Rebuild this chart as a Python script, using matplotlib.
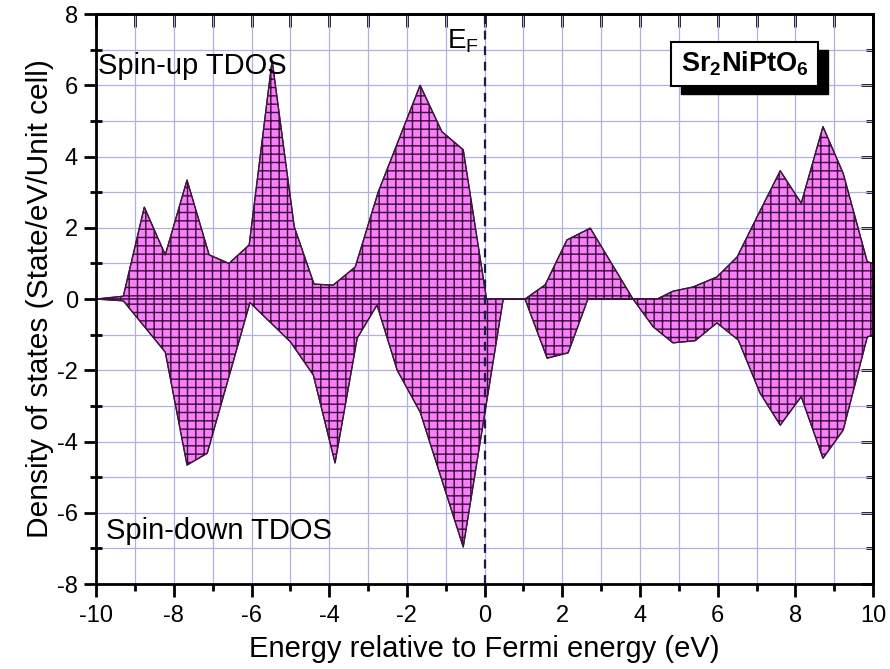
"""Spin-polarised TDOS of Sr2NiPtO6 (filled, cross-hatched)."""

import matplotlib
matplotlib.use("Agg")
import matplotlib.pyplot as plt
from matplotlib.patches import Rectangle
from matplotlib.ticker import MultipleLocator

plt.rcParams["font.family"] = ["Liberation Sans", "DejaVu Sans"]
plt.rcParams["axes.unicode_minus"] = False
plt.rcParams["hatch.linewidth"] = 1.0
plt.rcParams["hatch.color"] = "#3a0a3a"

# spin-up TDOS
e_up = [-10.0, -9.3, -8.76, -8.22, -7.66, -7.09, -6.58, -6.06, -5.47, -4.9,
        -4.39, -3.9, -3.33, -2.74, -1.66, -1.1, -0.55, 0.05, 0.48, 1.04,
        1.56, 2.12, 2.72, 3.82, 4.44, 4.85, 5.37, 5.98, 6.5, 7.01,
        7.61, 8.15, 8.71, 9.23, 9.85, 10.0]
dos_up = [0.0, 0.08, 2.58, 1.24, 3.34, 1.24, 1.0, 1.52, 6.7, 2.03,
          0.42, 0.39, 0.9, 3.0, 6.0, 4.7, 4.19, 0.0, 0.0, 0.0,
          0.4, 1.66, 1.99, 0.0, 0.0, 0.22, 0.34, 0.62, 1.18, 2.3,
          3.6, 2.69, 4.84, 3.53, 1.05, 1.0]

# spin-down TDOS
e_dn = [-10.0, -9.3, -8.22, -7.66, -7.14, -6.04, -5.0, -4.41, -3.85, -3.28,
        -2.77, -2.25, -1.66, -0.55, 0.48, 1.04, 1.61, 2.15, 2.66, 3.82,
        4.34, 4.85, 5.42, 5.98, 6.53, 7.09, 7.61, 8.15, 8.71, 9.23,
        9.85, 10.0]
dos_dn = [0.0, -0.05, -1.49, -4.66, -4.33, -0.1, -1.2, -2.13, -4.6, -1.1,
          -0.17, -2.0, -3.17, -6.96, 0.0, 0.0, -1.66, -1.51, 0.0, 0.0,
          -0.78, -1.23, -1.17, -0.67, -1.15, -2.64, -3.54, -2.74, -4.47, -3.68,
          -1.07, -1.0]

FILL = "#f77ff7"
GRID = "#b0b0e0"

fig = plt.figure(figsize=(8.9, 6.69), dpi=100)
ax = fig.add_axes([0.108, 0.127, 0.873, 0.852])

ax.fill_between(e_up, dos_up, 0, facecolor=FILL, edgecolor="#3a0a3a",
                hatch="++", linewidth=0.9, zorder=2)
ax.fill_between(e_dn, dos_dn, 0, facecolor=FILL, edgecolor="#3a0a3a",
                hatch="++", linewidth=0.9, zorder=2)
ax.plot(e_up, dos_up, color="#3a1a3a", lw=0.9, zorder=3)
ax.plot(e_dn, dos_dn, color="#3a1a3a", lw=0.9, zorder=3)

ax.axvline(0, color="#1a1a4a", ls=(0, (4, 3)), lw=1.6, zorder=4)

ax.set_xlim(-10, 10)
ax.set_ylim(-8, 8)
ax.xaxis.set_major_locator(MultipleLocator(2))
ax.xaxis.set_minor_locator(MultipleLocator(1))
ax.yaxis.set_major_locator(MultipleLocator(2))
ax.yaxis.set_minor_locator(MultipleLocator(1))
ax.grid(True, which="both", color=GRID, lw=0.9, zorder=0)
ax.set_axisbelow(True)

for sp in ax.spines.values():
    sp.set_linewidth(2)
    sp.set_zorder(5)

ax.tick_params(axis="x", which="major", direction="out", length=9, width=2,
               labelsize=17, pad=6)
ax.tick_params(axis="x", which="minor", direction="out", length=5, width=2)
ax.tick_params(axis="y", which="major", direction="out", length=9, width=2,
               labelsize=17, pad=4)
ax.tick_params(axis="y", which="minor", direction="inout", length=8, width=2)

# top/right ticks point inward
top = ax.secondary_xaxis("top")
top.xaxis.set_major_locator(MultipleLocator(2))
top.xaxis.set_minor_locator(MultipleLocator(1))
top.tick_params(which="major", direction="in", length=9, width=2, labeltop=False)
top.tick_params(which="minor", direction="in", length=9, width=2)
top.spines["top"].set_linewidth(2)
right = ax.secondary_yaxis("right")
right.yaxis.set_major_locator(MultipleLocator(2))
right.yaxis.set_minor_locator(MultipleLocator(1))
right.tick_params(which="major", direction="in", length=9, width=2, labelright=False)
right.tick_params(which="minor", direction="in", length=5, width=2)
right.spines["right"].set_linewidth(2)

ax.set_xlabel("Energy relative to Fermi energy (eV)", fontsize=21, labelpad=6)
ax.set_ylabel("Density of states (State/eV/Unit cell)", fontsize=21.5, labelpad=2)

ax.text(-9.95, 6.55, "Spin-up TDOS", fontsize=21, va="center", ha="left", zorder=6)
ax.text(-9.75, -6.5, "Spin-down TDOS", fontsize=21, va="center", ha="left", zorder=6)
ax.text(-0.97, 7.25, r"E$_\mathregular{F}$", fontsize=20, va="center", ha="left", zorder=6)

# label box with drop shadow
ax.add_patch(Rectangle((5.06, 5.75), 3.78, 1.24, facecolor="black",
                       edgecolor="black", zorder=6))
ax.add_patch(Rectangle((4.8, 5.98), 3.78, 1.24, facecolor="white",
                       edgecolor="black", lw=1.5, zorder=7))
ax.text(6.69, 6.6, r"Sr$_\mathregular{2}$NiPtO$_\mathregular{6}$", fontsize=19.5,
        fontweight="bold", ha="center", va="center", zorder=8)

fig.savefig("out.png", dpi=100)
